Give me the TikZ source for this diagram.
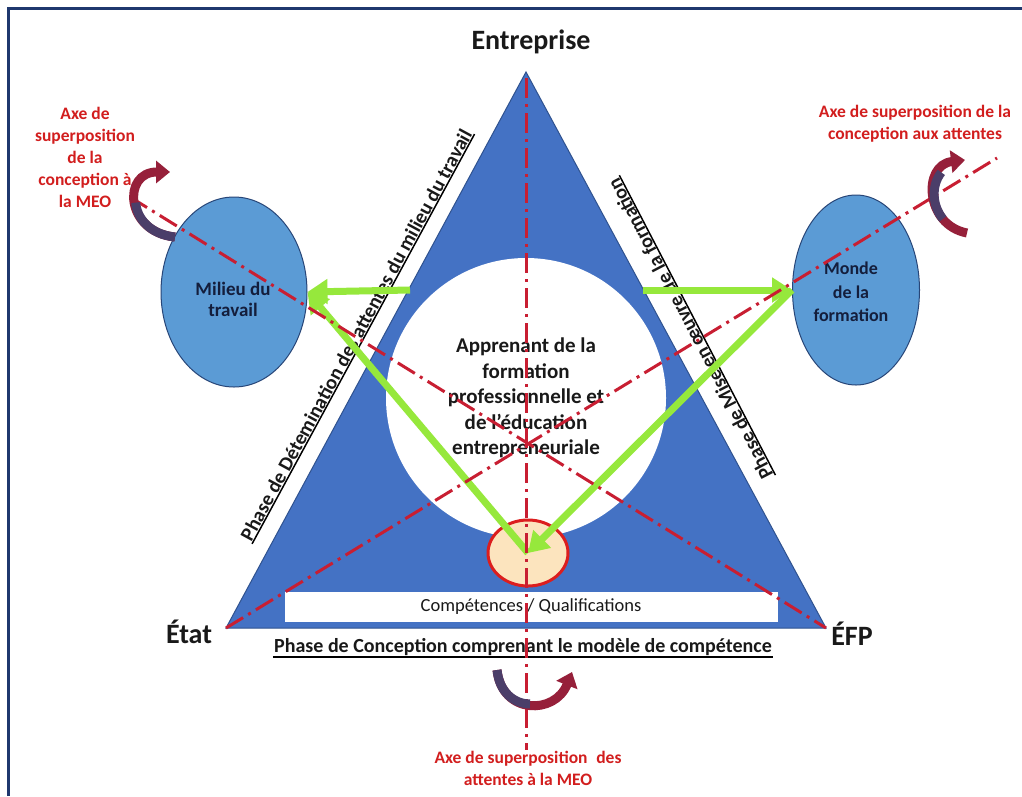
\documentclass[tikz,border=0pt]{standalone}
\usepackage{fontspec}
\setmainfont{Carlito}
\usetikzlibrary{arrows.meta,shapes.geometric}
\definecolor{triblue}{RGB}{68,114,196}
\definecolor{triedge}{RGB}{47,82,143}
\definecolor{ellblue}{RGB}{91,155,213}
\definecolor{elledge}{RGB}{40,70,120}
\definecolor{axered}{RGB}{200,30,50}
\definecolor{labred}{RGB}{210,30,30}
\definecolor{arrowgreen}{RGB}{150,232,60}
\definecolor{borderblue}{RGB}{31,56,110}
\definecolor{peach}{RGB}{252,228,190}
\definecolor{curvred}{RGB}{150,32,58}
\definecolor{curvnavy}{RGB}{75,62,105}
\definecolor{coreedge}{RGB}{220,30,30}
\definecolor{textblack}{RGB}{25,25,25}
\definecolor{textnavy}{RGB}{20,30,60}
\begin{document}
\begin{tikzpicture}[x=1pt,y=-1pt,
  lbl/.style={font=\bfseries\fontsize{28}{30}\selectfont, inner sep=0, text=textblack},
  redlbl/.style={text=labred, font=\bfseries\fontsize{17.5}{22}\selectfont, align=center, inner sep=0},
  axis/.style={axered, line width=3pt, dash pattern=on 20pt off 6pt on 3pt off 6pt},
  greenarrow/.style={arrowgreen, line width=7pt, -{Triangle[length=20pt,width=24pt]}},
  curvarrow/.style={curvred, line width=9pt, -{Triangle[length=14pt,width=22pt]}},
  curvbody/.style={curvnavy, line width=9pt},
  phase/.style={font=\bfseries\fontsize{20}{22}\selectfont, inner sep=1pt, text=textblack},
  world/.style={ellipse, fill=ellblue, draw=elledge, line width=1pt, inner sep=0},
]
\useasboundingbox (0,0) rectangle (1022,796);
\fill[white] (0,0) rectangle (1022,796);
\draw[borderblue, line width=3pt] (8,796) -- (8,8) -- (1022,8);

% triangle
\coordinate (apex) at (526,72);
\coordinate (etat) at (226,628);
\coordinate (efp) at (826,628);
\filldraw[fill=triblue, draw=triedge, line width=1pt] (apex) -- (etat) -- (efp) -- cycle;

\node[circle, fill=white, minimum size=280pt, inner sep=0] (learner) at (526,398) {};
\node[rectangle, fill=white, minimum width=493pt, minimum height=30pt, inner sep=0] (compbox) at (531,607) {};
\node[font=\fontsize{18.5}{20}\selectfont, text=textblack, inner sep=0] (comptext) at (531,607) {Compétences / Qualifications};
\node[ellipse, fill=peach, draw=coreedge, line width=3pt, minimum width=80pt, minimum height=66pt, inner sep=0] (core) at (528,553) {};

\node[world, minimum width=146pt, minimum height=190pt] (milieu) at (234,292) {};
\node[world, minimum width=127pt, minimum height=190pt] (monde) at (856,290) {};
\node[font=\bfseries\fontsize{19}{21}\selectfont, align=center, text=textnavy, inner sep=0] (milieutext) at (233,299) {Milieu du\\travail};
\node[font=\bfseries\fontsize{18}{23.5}\selectfont, align=center, text=textnavy, inner sep=0] (mondetext) at (851,292) {Monde\\de la\\formation};

% phase labels
\node[phase, rotate=61.5] (phL) at (356,335) {Phase de Détemination des attentes du milieu du travail};
\draw[line width=1.5pt] (phL.south west) -- (phL.south east);
\node[phase, rotate=117.5] (phR) at (690,329) {Phase de Mise en œuvre de la formation};
\draw[line width=1.5pt] (phR.south west) -- (phR.south east);
\node[phase] (phB) at (523,647) {Phase de Conception comprenant le modèle de compétence};
\draw[line width=1.5pt] (phB.south west) -- (phB.south east);

% center text
\node[font=\bfseries\fontsize{21}{25.5}\selectfont, align=center, text=textblack, inner sep=0] (learnertext) at (526,398) {Apprenant de la\\formation\\professionnelle et\\de l'éducation\\entrepreneuriale};

% green arrows
\coordinate (tL) at (410,290);
\coordinate (tR) at (643,290);
\draw[greenarrow] (tL) -- (milieu.east);
\draw[greenarrow] (tR) -- (monde.west);
\draw[greenarrow] (core.center) -- (milieu.east);
\draw[greenarrow] (monde.west) -- (core.center);

% axes
\coordinate (axTop) at (526,78);
\coordinate (axBot) at (526,750);
\coordinate (axL) at (130,197);
\coordinate (axR) at (997,158);
\draw[axis] (axTop) -- (axBot);
\draw[axis] (axL) -- (efp);
\draw[axis] (etat) -- (axR);

% curved arrows (red ends, navy body part)
\draw[curvarrow] (175,237) .. controls (125,232) and (122,172) .. (170,172);
\draw[curvbody] (175,237) .. controls (150,234.5) and (136.75,218.25) .. (135.75,202.6);
\draw[curvarrow] (967,233) .. controls (925,225) and (922,165) .. (965,160);
\draw[curvbody] (942.9,218.9) .. controls (931.9,205.3) and (931.1,185.3) .. (941.3,172.4);
\draw[curvarrow] (497,670) .. controls (502,715) and (555,715) .. (572,672);
\draw[curvbody] (497,670) .. controls (499.5,692.5) and (514,703.75) .. (530,704);

% labels
\node[lbl] (entreprise) at (531,42) {Entreprise};
\node[lbl] (etatlbl) at (189,632) {État};
\node[lbl] (efplbl) at (852,634) {ÉFP};
\node[redlbl] (axeL) at (85,157) {Axe de\\superposition\\de la\\conception à\\la MEO};
\node[redlbl] (axeR) at (915,124) {Axe de superposition de la\\conception aux attentes};
\node[redlbl] (axeB) at (528,768) {Axe de superposition\hspace{0.5em}des\\attentes à la MEO};
\end{tikzpicture}
\end{document}
